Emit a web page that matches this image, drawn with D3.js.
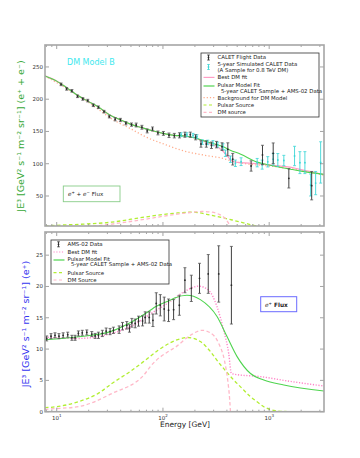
<!DOCTYPE html>
<html><head><meta charset="utf-8">
<script src="https://cdn.jsdelivr.net/npm/d3@7"></script>
<style>body{margin:0;background:#fff}svg{display:block;font-family:"DejaVu Sans",sans-serif}</style>
</head><body><svg id="c" width="360" height="458"></svg>
<script>
// ---------- DATA ----------
// Top panel (e+ + e-)
const caletE   = [11.0,12.4,13.9,15.7,17.6,19.6,22.1,24.7,27.9,31.3,35.5,39.8,44.8,50.6,56,63.4,71.1,79.8,89.7,101,114,128,143,161,181,203,228,256,286,319,360,408,454,676,865,1091,1531,2512];
const caletV   = [223,216,213,204.5,200.4,197.8,190.6,187.5,180.7,173,168.9,167.8,162.7,160.6,160,156.5,150.8,153.9,147.7,147,144.1,143.5,144,145,145,141,130.6,130.6,128.6,129.6,126.5,122.4,107,96.5,113.6,116.2,77.4,66];
const caletErr = [2,2,2,2,2,2,2,2,2,2,2.5,2.5,2.5,2.5,3,3,3,3,3,3,3.5,3.5,4,4,4,4,5,5,5,5,6,10,9,8,15,16,15,22];
const simE   = [148,168,192,209,235,264,296,328,368,387,432,481,544,771,859,970,1091,1206,1374,1733,1946,2169,2455,2737,3050];
const simV   = [145,145,144,142,133.5,133,131.8,129.6,126.5,116.2,107,100.7,103.2,101.7,98.6,103,107,105.8,105,112,101.7,101.7,67,70,102];
const simErr = [3,3,3,3,3.5,3.5,4,4,4.5,5,5,5,6,6.5,7,8,9,10,8,15,17,17,17,18,32];
const topFitE = [7.76,10,12.4,15.7,19.6,24.7,31.3,39.8,50,63,80,100,128,160,200,250,300,360,430,540,770,1000,1590,2000,3281];
const topFitV = [236,228,218,206,197,188,176,168,161,156,151,147,144,143,140,135,131,127,121,114.6,102.5,98,91.5,88.5,83.5];
const topDmE  = [7.76,10,12.4,15.7,19.6,24.7,31.3,39.8,50,63,80,100,128,160,200,250,300,360,400,440,500,650,1000,1500,2000,3281];
const topDmV  = [236,228,218,206,197,188,176,168,161,156,151,147,144,143,140,134,129,121,113,105,102,101,98,95,91,83];
const topBgE  = [7.76,12,20,35,50,68,100,160,250,350,430,600,1000,2000,3281];
const topBgV  = [236,218,195,167,154,142,131,119.5,113,109,105,100,96.5,89.5,82];
const topPsrE = [7.76,9.8,16,33,68,137,187,287,448,650,760,900,1200,3281];
const topPsrV = [3.2,4.5,6,9.5,17.5,23.7,25,20,12.8,6.2,3.5,1.8,0.4,0];
const topDmsE = [7.76,10,16,33,68,137,181,233,279,335,379,407,425,432];
const topDmsV = [0.8,1.2,1.8,6.5,14,22,24.4,26,25.2,21.8,16.4,10,3.8,0];
// Bottom panel (e+)
const amsE   = [8.05,8.84,9.64,10.5,11.5,12.7,13.9,14.9,16.0,17.4,19.2,21.4,23.0,24.7,26.9,29.2,31.8,34.2,38.7,41.6,45.7,48.4,51.0,54.8,58.9,64.3,68.1,74.3,80.5,86.5,94.4,102.8,113,126,142.6,161,185,221,267,335,441];
const amsV   = [11.7,12.07,12.2,12.07,12.2,12.3,11.8,11.8,12.5,12.6,12.66,12.4,12.1,12.2,12.5,12.87,12.8,13.0,13.1,13.66,13.8,13.3,14.2,14.1,14.46,14.5,15.05,15.05,14.6,17.3,17.0,16.4,16.2,16.3,17.0,21.0,19.7,21.3,22.0,22.0,20.2];
const amsErr = [0.4,0.4,0.4,0.4,0.4,0.4,0.4,0.4,0.4,0.4,0.4,0.4,0.4,0.5,0.5,0.5,0.5,0.5,0.6,0.6,0.6,0.6,0.7,0.7,0.8,0.8,0.9,0.9,1.0,1.7,1.7,1.9,1.8,1.6,1.6,2.0,2.1,2.4,3.1,4.5,6.2];
const botFitE = [7.76,16,33,51,76,85,117,131,168,225,323,401,499,667,890,1374,3281];
const botFitV = [11.5,11.96,12.87,14.36,16.2,16.75,17.8,18.2,18.6,17.9,15.2,12,8.8,6.1,5.05,4.26,3.3];
const botDmE  = [7.76,16,33,51,76,117,156,217,269,323,373,416,441,463,828,1500,3281];
const botDmV  = [11.9,11.7,12.5,13.7,15.6,17.6,19.1,20.05,19.4,16.75,13,9.3,6.1,6.0,5.6,4.9,4.1];
const botPsrE = [7.76,10,16,25,33,50,68,90,117,150,172,225,280,323,390,450,550,667,780,890,1000,1150,1400,3281];
const botPsrV = [0.64,0.8,1.6,3.0,4.5,6.5,8.2,9.8,11.0,11.7,11.85,11.2,9.6,8.2,6.5,5.3,3.8,2.4,1.5,0.8,0.4,0.16,0.03,0];
const botDmsE = [7.76,10,16,33,68,76,117,131,181,233,279,335,379,407,425,432];
const botDmsV = [0.38,0.5,0.8,2.9,6.1,7.2,9.8,10.3,12.2,13.0,12.6,10.9,8.2,5.05,1.9,0];
const topTicks = [50,100,150,200,250];
const botTicks = [0,5,10,15,20,25];
const xMajor = [10,100,1000];
const xExp = ["1","2","3"];

// ---------- LAYOUT ----------
const svg = d3.select("#c");
const L = 45, R = 324;
const x = d3.scaleLog().domain([7.76,3281]).range([L,R]);
const yT = d3.scaleLinear().domain([3.5,284]).range([226,45]);
const yB = d3.scaleLinear().domain([0,28.7]).range([411.7,232]);

const C = {green:"#4fd44f", pink:"#ff9ec4", salmon:"#ffab8a", ygreen:"#b2ee33", pdash:"#ffb8c8", pdot:"#ff86c8", cyan:"#3cd6d6", black:"#2a2a2a"};

function clip(id, y0, y1){
  svg.append("clipPath").attr("id",id).append("rect").attr("x",L).attr("y",y0).attr("width",R-L).attr("height",y1-y0);
}
clip("ct",45,226); clip("cb",232,411.7);

function curve(g, E, V, ys, color, dash, w){
  const pts = E.map((e,i)=>[x(e), ys(V[i])]);
  g.append("path").attr("d", d3.line().curve(d3.curveMonotoneX)(pts))
    .attr("fill","none").attr("stroke",color).attr("stroke-width",w||1.2)
    .attr("stroke-dasharray",dash||null);
}
function errs(g, E, V, Er, ys, color, capc){
  E.forEach((e,i)=>{
    const cx = x(e), a = ys(V[i]-Er[i]), b = ys(V[i]+Er[i]);
    g.append("line").attr("x1",cx).attr("x2",cx).attr("y1",a).attr("y2",b).attr("stroke",color).attr("stroke-width",0.9);
    [a,b].forEach(yy=>g.append("line").attr("x1",cx-1.5).attr("x2",cx+1.5).attr("y1",yy).attr("y2",yy).attr("stroke",capc||color).attr("stroke-width",0.8));
    g.append("circle").attr("cx",cx).attr("cy",ys(V[i])).attr("r",0.9).attr("fill",color);
  });
}

function frame(y0, y1, ys, ticks, showX){
  const g = svg.append("g");
  // minor/major x ticks
  const minors = [];
  [1,10,100,1000].forEach(d=>{for(let k=1;k<10;k++){const v=d*k; if(v>=7.76&&v<=3281) minors.push(v);}});
  minors.forEach(v=>{
    const major = xMajor.includes(v);
    const len = major?4:2;
    g.append("line").attr("x1",x(v)).attr("x2",x(v)).attr("y1",y1).attr("y2",y1-len).attr("stroke","#666").attr("stroke-width",0.6);
    g.append("line").attr("x1",x(v)).attr("x2",x(v)).attr("y1",y0).attr("y2",y0+len).attr("stroke","#666").attr("stroke-width",0.6);
  });
  ticks.forEach(t=>{
    const yy = ys(t);
    g.append("line").attr("x1",L).attr("x2",L+4).attr("y1",yy).attr("y2",yy).attr("stroke","#666").attr("stroke-width",0.6);
    g.append("line").attr("x1",R).attr("x2",R-4).attr("y1",yy).attr("y2",yy).attr("stroke","#666").attr("stroke-width",0.6);
    g.append("text").attr("x",L-2).attr("y",yy+2).attr("text-anchor","end").attr("font-size",5.5).attr("fill","#333").text(t);
  });
  g.append("rect").attr("x",L).attr("y",y0).attr("width",R-L).attr("height",y1-y0).attr("fill","none").attr("stroke","#a6a6a6").attr("stroke-width",1.6);
  if(showX){
    xMajor.forEach((v,i)=>{
      const t = g.append("text").attr("x",x(v)).attr("y",y1+8).attr("text-anchor","middle").attr("font-size",5.5).attr("fill","#333");
      t.append("tspan").text("10");
      t.append("tspan").attr("dy",-2.5).attr("font-size",4).text(xExp[i]);
    });
  }
}

// ---------- TOP PANEL ----------
const gt = svg.append("g").attr("clip-path","url(#ct)");
curve(gt, topPsrE, topPsrV, yT, C.ygreen, "3.5,2.5", 1.3);
curve(gt, topDmsE, topDmsV, yT, C.pdash, "3.5,2.5", 1.3);
curve(gt, topBgE, topBgV, yT, C.salmon, "1.2,2.2", 1.3);
curve(gt, topDmE, topDmV, yT, C.pink, null, 1.3);
curve(gt, topFitE, topFitV, yT, C.green, null, 1.1);
errs(gt, simE, simV, simErr, yT, C.cyan);
errs(gt, caletE, caletV, caletErr, yT, C.black, "#555");
frame(45,226,yT,topTicks,false);

// ---------- BOTTOM PANEL ----------
const gb = svg.append("g").attr("clip-path","url(#cb)");
curve(gb, botPsrE, botPsrV, yB, C.ygreen, "3.5,2.5", 1.3);
curve(gb, botDmsE, botDmsV, yB, C.pdash, "3.5,2.5", 1.3);
curve(gb, botDmE, botDmV, yB, C.pdot, "1.2,1.6", 1.4);
curve(gb, botFitE, botFitV, yB, C.green, null, 1.1);
errs(gb, amsE, amsV, amsErr, yB, C.black, "#555");
frame(232,411.7,yB,botTicks,true);

// ---------- TEXTS ----------
svg.append("text").attr("x",185).attr("y",427).attr("text-anchor","middle").attr("font-size",7.5).attr("fill","#222").text("Energy [GeV]");

function ylabel(cx, cy, color, tail){
  const t = svg.append("text").attr("transform",`translate(${cx},${cy}) rotate(-90)`).attr("text-anchor","middle").attr("font-size",9.5).attr("fill",color);
  t.text("JE³ [GeV² s⁻¹ m⁻² sr⁻¹] " + tail);
}
ylabel(24,136,"#36a836","(e⁺ + e⁻)");
ylabel(29,324,"#3434f0","(e⁺)");

svg.append("text").attr("x",67).attr("y",64.5).attr("font-size",8).attr("fill","#3ee8ee").text("DM Model B");

// flux boxes
svg.append("rect").attr("x",63.3).attr("y",186).attr("width",56.7).attr("height",15.7).attr("fill","#fff").attr("stroke","#88cc88").attr("stroke-width",0.9);
const f1 = svg.append("text").attr("x",68).attr("y",196.3).attr("font-size",5.6).attr("fill","#222");
f1.append("tspan").attr("font-style","italic").text("e");
f1.append("tspan").attr("dy",-2).attr("font-size",4).text("+");
f1.append("tspan").attr("dy",2).text("  + ");
f1.append("tspan").attr("font-style","italic").text("e");
f1.append("tspan").attr("dy",-2).attr("font-size",4).text("−");
f1.append("tspan").attr("dy",2).text("  Flux");

svg.append("rect").attr("x",260.7).attr("y",296.7).attr("width",36).attr("height",15).attr("fill","#fff").attr("stroke","#6b6bff").attr("stroke-width",1);
const f2 = svg.append("text").attr("x",265).attr("y",306.8).attr("font-size",5.8).attr("fill","#222");
f2.append("tspan").attr("font-style","italic").text("e");
f2.append("tspan").attr("dy",-2).attr("font-size",4).text("+");
f2.append("tspan").attr("dy",2).attr("font-weight","bold").text(" Flux");

// ---------- LEGENDS ----------
function legend(bx, by, bw, bh, entries){
  svg.append("rect").attr("x",bx).attr("y",by).attr("width",bw).attr("height",bh).attr("fill","#fff").attr("stroke","#333").attr("stroke-width",0.8);
  entries.forEach(en=>{
    const hx = bx+2.5, hy = en.hy;
    if(en.type==="err"){
      const cx = hx+5;
      svg.append("line").attr("x1",cx).attr("x2",cx).attr("y1",hy-2.5).attr("y2",hy+2.5).attr("stroke",en.color).attr("stroke-width",0.9);
      [hy-2.5,hy+2.5].forEach(yy=>svg.append("line").attr("x1",cx-1.3).attr("x2",cx+1.3).attr("y1",yy).attr("y2",yy).attr("stroke",en.color).attr("stroke-width",0.8));
      svg.append("circle").attr("cx",cx).attr("cy",hy).attr("r",0.9).attr("fill",en.color);
    } else {
      svg.append("line").attr("x1",hx).attr("x2",hx+11).attr("y1",hy).attr("y2",hy).attr("stroke",en.color).attr("stroke-width",1.2).attr("stroke-dasharray",en.dash||null);
    }
    en.lines.forEach((s,i)=>{
      svg.append("text").attr("x",bx+16.5).attr("y",en.ty[i]).attr("font-size",5.4).attr("fill","#222").attr("xml:space","preserve").text(s);
    });
  });
}
legend(201,53,118,64,[
  {type:"err",color:C.black,hy:57.5,lines:["CALET Flight Data"],ty:[59.3]},
  {type:"err",color:C.cyan,hy:67,lines:["5-year Simulated CALET Data","(A Sample for 0.8 TeV DM)"],ty:[65.8,72.2]},
  {type:"line",color:C.pink,hy:77.4,lines:["Best DM fit"],ty:[79.2]},
  {type:"line",color:C.green,hy:86,lines:["Pulsar Model Fit","  5-year CALET Sample + AMS-02 Data"],ty:[86.8,92.8]},
  {type:"line",color:C.salmon,dash:"1.2,2",hy:97.7,lines:["Background for DM Model"],ty:[99.5]},
  {type:"line",color:C.ygreen,dash:"3,2.5",hy:105,lines:["Pulsar Source"],ty:[106.8]},
  {type:"line",color:C.pdash,dash:"3,2.5",hy:112.3,lines:["DM source"],ty:[114.1]}
]);
legend(51,240,118,44,[
  {type:"err",color:C.black,hy:244.3,lines:["AMS-02 Data"],ty:[246.1]},
  {type:"line",color:C.pdot,dash:"1.2,1.6",hy:252,lines:["Best DM fit"],ty:[253.8]},
  {type:"line",color:C.green,hy:260,lines:["Pulsar Model Fit","  5-year CALET Sample + AMS-02 Data"],ty:[261.1,266.3]},
  {type:"line",color:C.ygreen,dash:"3,2.5",hy:272.7,lines:["Pulsar Source"],ty:[274.5]},
  {type:"line",color:C.pdash,dash:"3,2.5",hy:280,lines:["DM Source"],ty:[281.8]}
]);
</script></body></html>
